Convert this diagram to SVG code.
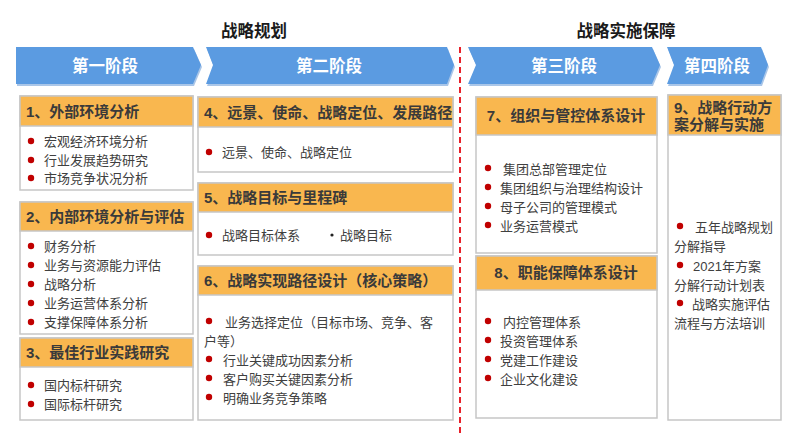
<svg xmlns="http://www.w3.org/2000/svg" width="800" height="438" viewBox="0 0 800 438">
<style>
text{font-family:"Liberation Sans","Noto Sans CJK SC",sans-serif;}
.title{font-size:16.5px;font-weight:bold;fill:#1a1a1a;text-anchor:middle;}
.stage{fill:#5B9BE1;}
.stage-sh{fill:#aac6e8;}
.stxt{font-size:16.5px;font-weight:bold;fill:#ffffff;text-anchor:middle;}
.box{fill:#ffffff;stroke:#c6c6c6;stroke-width:1.5;}
.hdr{fill:#F9B74F;stroke:#c6c6c6;stroke-width:1.5;}
.htxt{font-size:15px;font-weight:bold;fill:#3a3a3a;}
.c{text-anchor:middle;}
.itm{font-size:13px;fill:#404040;}
.dot{fill:#C00000;}
</style>
<rect width="800" height="438" fill="#ffffff"/>
<g id="titles">
<text class="title" x="254" y="37">战略规划</text>
<text class="title" x="626" y="37">战略实施保障</text>
</g>
<g id="connectors">
<line x1="460" y1="47" x2="460" y2="433" stroke="#E8202A" stroke-width="2" stroke-dasharray="6,4"/>
</g>
<g id="stage1">
<polygon class="stage-sh" points="17,49 194,49 202,67 194,86 17,86"/>
<polygon class="stage" points="16,47 193,47 201,65 193,84 16,84"/>
<text class="stxt" x="105" y="72">第一阶段</text>
</g>
<g id="stage2">
<polygon class="stage-sh" points="207,49 448,49 455,67 448,86 207,86 214,67"/>
<polygon class="stage" points="206,47 447,47 454,65 447,84 206,84 213,65"/>
<text class="stxt" x="329" y="72">第二阶段</text>
</g>
<g id="stage3">
<polygon class="stage-sh" points="469,49 653,49 661,67 653,86 469,86 477,67"/>
<polygon class="stage" points="468,47 652,47 660,65 652,84 468,84 476,65"/>
<text class="stxt" x="564" y="72">第三阶段</text>
</g>
<g id="stage4">
<polygon class="stage-sh" points="668,49 762,49 769,67 762,86 668,86 675,67"/>
<polygon class="stage" points="667,47 761,47 768,65 761,84 667,84 674,65"/>
<text class="stxt" x="717" y="72">第四阶段</text>
</g>
<g id="box1">
<rect class="box" x="20" y="96" width="173" height="94"/>
<rect class="hdr" x="20" y="96" width="173" height="30"/>
<text class="htxt" x="26" y="117">1、外部环境分析</text>
<circle class="dot" cx="31" cy="141" r="3.2"/><text class="itm" x="44" y="146">宏观经济环境分析</text>
<circle class="dot" cx="31" cy="160" r="3.2"/><text class="itm" x="44" y="165">行业发展趋势研究</text>
<circle class="dot" cx="31" cy="178" r="3.2"/><text class="itm" x="44" y="183">市场竞争状况分析</text>
</g>
<g id="box2">
<rect class="box" x="20" y="202" width="173" height="132"/>
<rect class="hdr" x="20" y="202" width="173" height="29"/>
<text class="htxt" x="26" y="222">2、内部环境分析与评估</text>
<circle class="dot" cx="31" cy="246" r="3.2"/><text class="itm" x="44" y="251">财务分析</text>
<circle class="dot" cx="31" cy="265" r="3.2"/><text class="itm" x="44" y="270">业务与资源能力评估</text>
<circle class="dot" cx="31" cy="284" r="3.2"/><text class="itm" x="44" y="289">战略分析</text>
<circle class="dot" cx="31" cy="303" r="3.2"/><text class="itm" x="44" y="308">业务运营体系分析</text>
<circle class="dot" cx="31" cy="322" r="3.2"/><text class="itm" x="44" y="327">支撑保障体系分析</text>
</g>
<g id="box3">
<rect class="box" x="20" y="338" width="173" height="82"/>
<rect class="hdr" x="20" y="338" width="173" height="29"/>
<text class="htxt" x="26" y="358">3、最佳行业实践研究</text>
<circle class="dot" cx="31" cy="385" r="3.2"/><text class="itm" x="44" y="390">国内标杆研究</text>
<circle class="dot" cx="31" cy="404" r="3.2"/><text class="itm" x="44" y="409">国际标杆研究</text>
</g>
<g id="box4">
<rect class="box" x="198" y="97" width="255" height="75"/>
<rect class="hdr" x="198" y="97" width="255" height="30"/>
<text class="htxt" x="204" y="118">4、远景、使命、战略定位、发展路径</text>
<circle class="dot" cx="209" cy="152" r="3.2"/><text class="itm" x="222" y="157">远景、使命、战略定位</text>
</g>
<g id="box5">
<rect class="box" x="198" y="183" width="255" height="72"/>
<rect class="hdr" x="198" y="183" width="255" height="29"/>
<text class="htxt" x="204" y="203">5、战略目标与里程碑</text>
<circle class="dot" cx="209" cy="235" r="3.2"/><text class="itm" x="222" y="240">战略目标体系</text>
<circle cx="332" cy="235" r="1.6" fill="#222"/><text class="itm" x="340" y="240">战略目标</text>
</g>
<g id="box6">
<rect class="box" x="198" y="266" width="255" height="154"/>
<rect class="hdr" x="198" y="266" width="255" height="29"/>
<text class="htxt" x="204" y="286">6、战略实现路径设计（核心策略）</text>
<circle class="dot" cx="209" cy="321" r="3.2"/><text class="itm" x="225" y="327">业务选择定位（目标市场、竞争、客</text>
<text class="itm" x="204" y="346">户等）</text>
<circle class="dot" cx="209" cy="359" r="3.2"/><text class="itm" x="223" y="365">行业关键成功因素分析</text>
<circle class="dot" cx="209" cy="378" r="3.2"/><text class="itm" x="223" y="384">客户购买关键因素分析</text>
<circle class="dot" cx="209" cy="397" r="3.2"/><text class="itm" x="223" y="403">明确业务竞争策略</text>
</g>
<g id="box7">
<rect class="box" x="476" y="97" width="181" height="156"/>
<rect class="hdr" x="476" y="97" width="181" height="38"/>
<text class="htxt c" x="566" y="121">7、组织与管控体系设计</text>
<circle class="dot" cx="488" cy="168" r="3.2"/><text class="itm" x="503" y="174">集团总部管理定位</text>
<circle class="dot" cx="488" cy="187" r="3.2"/><text class="itm" x="500" y="193">集团组织与治理结构设计</text>
<circle class="dot" cx="488" cy="206" r="3.2"/><text class="itm" x="500" y="212">母子公司的管理模式</text>
<circle class="dot" cx="488" cy="225" r="3.2"/><text class="itm" x="500" y="231">业务运营模式</text>
</g>
<g id="box8">
<rect class="box" x="476" y="256" width="181" height="162"/>
<rect class="hdr" x="476" y="256" width="181" height="34"/>
<text class="htxt c" x="566" y="278">8、职能保障体系设计</text>
<circle class="dot" cx="488" cy="321" r="3.2"/><text class="itm" x="503" y="327">内控管理体系</text>
<circle class="dot" cx="488" cy="340" r="3.2"/><text class="itm" x="500" y="346">投资管理体系</text>
<circle class="dot" cx="488" cy="359" r="3.2"/><text class="itm" x="500" y="365">党建工作建设</text>
<circle class="dot" cx="488" cy="378" r="3.2"/><text class="itm" x="500" y="384">企业文化建设</text>
</g>
<g id="box9">
<rect class="box" x="668" y="95" width="113" height="325"/>
<rect class="hdr" x="668" y="95" width="113" height="40"/>
<text class="htxt" x="674" y="113">9、战略行动方</text>
<text class="htxt" x="674" y="130">案分解与实施</text>
<circle class="dot" cx="680" cy="226" r="3.2"/><text class="itm" x="695" y="232">五年战略规划</text>
<text class="itm" x="674" y="251">分解指导</text>
<circle class="dot" cx="680" cy="265" r="3.2"/><text class="itm" x="693" y="271">2021年方案</text>
<text class="itm" x="674" y="290">分解行动计划表</text>
<circle class="dot" cx="680" cy="303" r="3.2"/><text class="itm" x="692" y="309">战略实施评估</text>
<text class="itm" x="674" y="328">流程与方法培训</text>
</g>
</svg>
